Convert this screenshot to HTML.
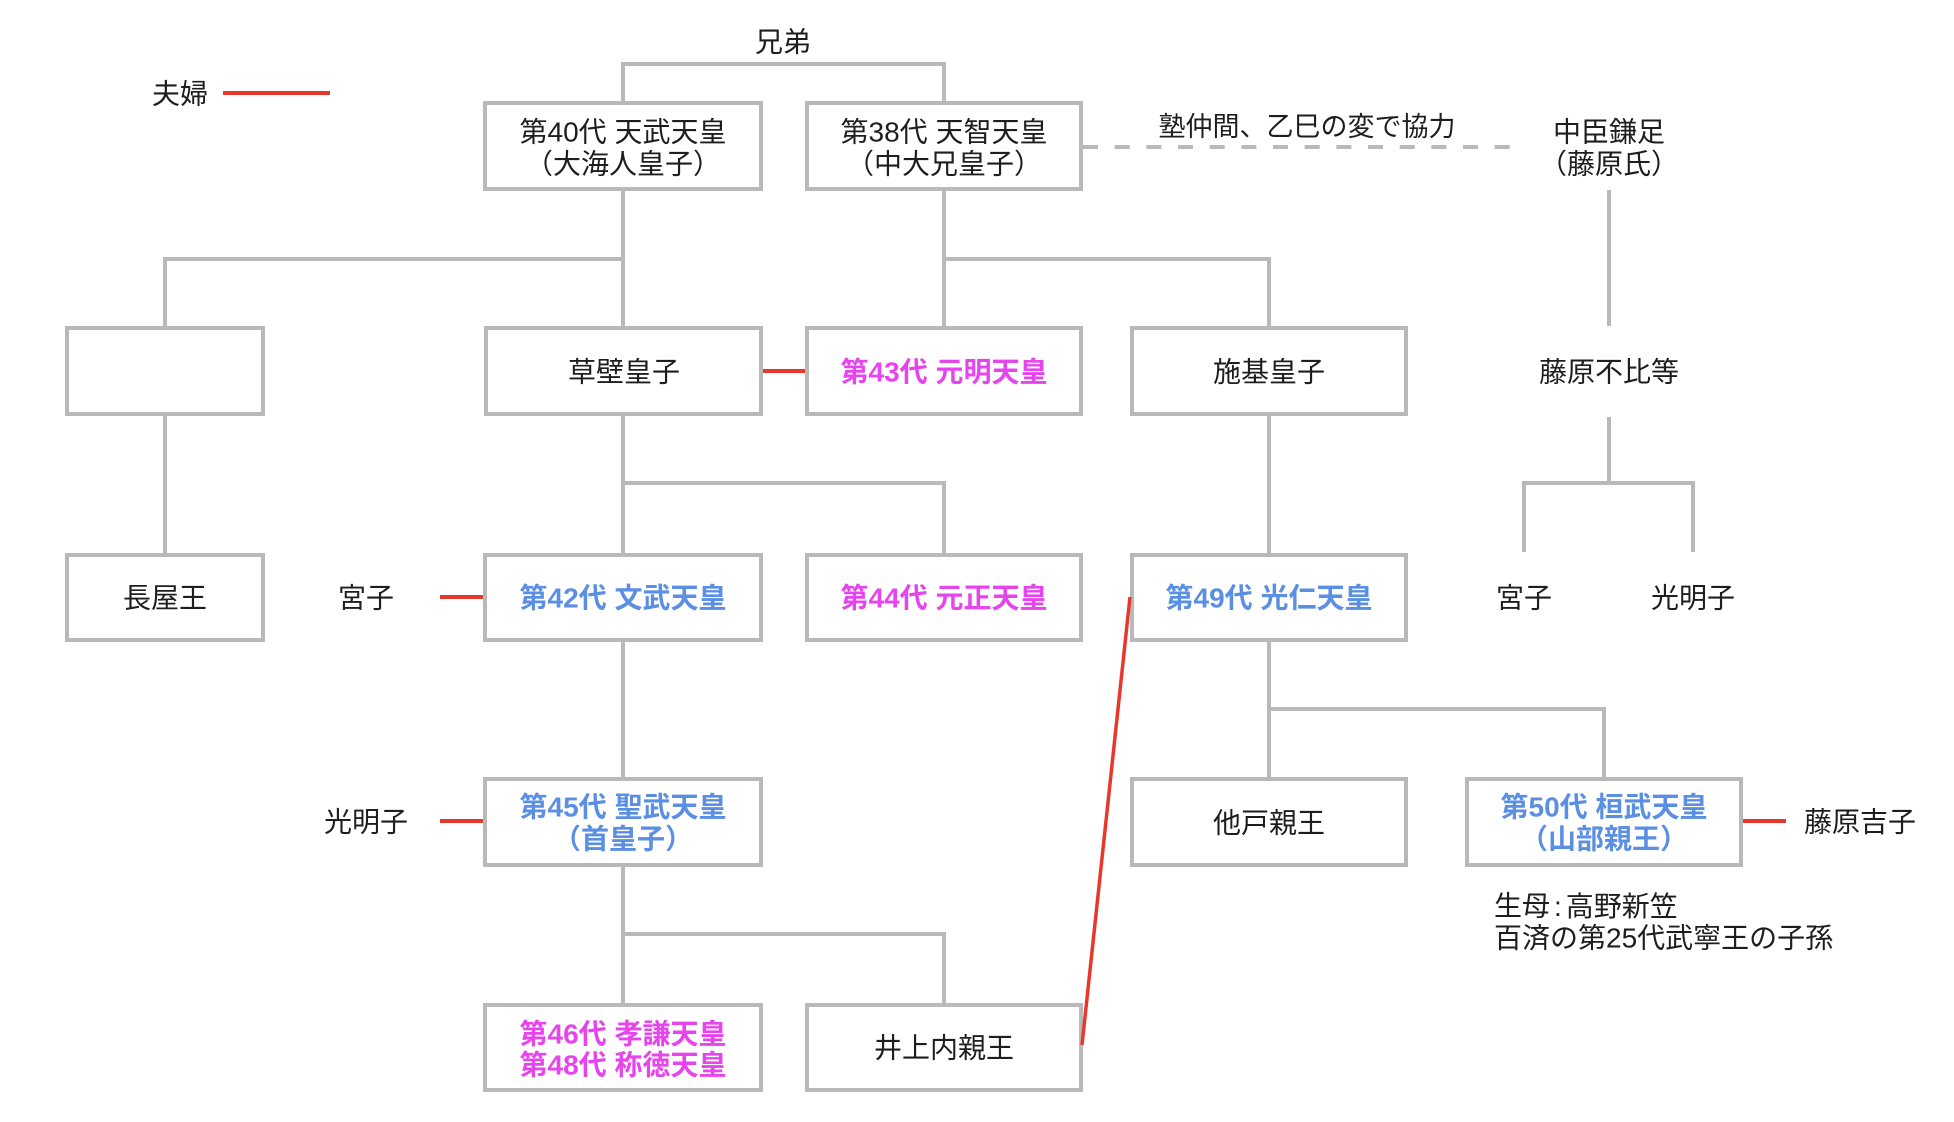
<!DOCTYPE html>
<html>
<head>
<meta charset="utf-8">
<style>
  html, body { margin: 0; padding: 0; background: #ffffff; }
  body { width: 1954px; height: 1122px; overflow: hidden; }
  svg { display: block; }
  text {
    font-family: "Liberation Sans", "Noto Sans CJK JP", sans-serif;
    font-size: 28px;
    fill: #1e1e1e;
    text-anchor: middle;
    dominant-baseline: central;
  }
  .m { fill: #e644ec; font-weight: bold; }
  .b { fill: #5a8fe3; font-weight: bold; }
  .l { text-anchor: start; }
  .s { font-size: 27px; }
</style>
</head>
<body>
<svg width="1954" height="1122" viewBox="0 0 1954 1122" xmlns="http://www.w3.org/2000/svg">
  <!-- gray connectors -->
  <g fill="none" stroke="#b9b9b9" stroke-width="4" stroke-linejoin="miter" stroke-linecap="butt">
    <path d="M623 101 V64 H944 V101"/>
    <path d="M623 191 V326"/>
    <path d="M165 326 V259 H623"/>
    <path d="M944 191 V326"/>
    <path d="M944 259 H1269 V326"/>
    <path d="M165 416 V553"/>
    <path d="M623 416 V553"/>
    <path d="M623 483 H944 V553"/>
    <path d="M1269 416 V553"/>
    <path d="M623 642 V777"/>
    <path d="M1269 642 V777"/>
    <path d="M1269 709 H1604 V777"/>
    <path d="M623 867 V1003"/>
    <path d="M623 934 H944 V1003"/>
    <path d="M1609 190 V326"/>
    <path d="M1609 417 V483"/>
    <path d="M1524 552 V483 H1693 V552"/>
    <path d="M1083 147 H1510" stroke-dasharray="15 16.67"/>
  </g>

  <!-- boxes -->
  <g fill="#ffffff" stroke="#b9b9b9" stroke-width="4">
    <rect x="485" y="103" width="276" height="86"/>
    <rect x="807" y="103" width="274" height="86"/>

    <rect x="67" y="328" width="196" height="86"/>
    <rect x="486" y="328" width="275" height="86"/>
    <rect x="807" y="328" width="274" height="86"/>
    <rect x="1132" y="328" width="274" height="86"/>

    <rect x="67" y="555" width="196" height="85"/>
    <rect x="485" y="555" width="276" height="85"/>
    <rect x="807" y="555" width="274" height="85"/>
    <rect x="1132" y="555" width="274" height="85"/>

    <rect x="485" y="779" width="276" height="86"/>
    <rect x="1132" y="779" width="274" height="86"/>
    <rect x="1467" y="779" width="274" height="86"/>

    <rect x="485" y="1005" width="276" height="85"/>
    <rect x="807" y="1005" width="274" height="85"/>
  </g>

  <!-- red spouse lines -->
  <g stroke="#e8382c" stroke-width="4" fill="none">
    <path d="M223 93 H330"/>
    <path d="M763 371 H805"/>
    <path d="M440 597 H483"/>
    <path d="M440 821 H483"/>
    <path d="M1743 821 H1786"/>
    <path d="M1082 1045 L1130 597" stroke-width="3.5"/>
  </g>

  <!-- labels -->
  <text x="783" y="42">兄弟</text>
  <text x="180" y="94">夫婦</text>
  <text class="s" x="1307" y="127">塾仲間、乙巳の変で協力</text>
  <text x="1609" y="132">中臣鎌足</text>
  <text x="1609" y="164">（藤原氏）</text>
  <text x="1609" y="372">藤原不比等</text>
  <text x="1524" y="598">宮子</text>
  <text x="1693" y="598">光明子</text>
  <text x="366" y="598">宮子</text>
  <text x="366" y="822">光明子</text>
  <text x="1860" y="822">藤原吉子</text>
  <text class="l" x="1494" y="906">生母<tspan dx="4">:</tspan><tspan dx="4">高野新笠</tspan></text>
  <text class="l" x="1494" y="938">百済の第25代武寧王の子孫</text>

  <!-- box texts -->
  <text x="623" y="132">第40代 天武天皇</text>
  <text x="623" y="164">（大海人皇子）</text>
  <text x="944" y="132">第38代 天智天皇</text>
  <text x="944" y="164">（中大兄皇子）</text>

  <text x="624" y="372">草壁皇子</text>
  <text class="m" x="944" y="372">第43代 元明天皇</text>
  <text x="1269" y="372">施基皇子</text>

  <text x="165" y="598">長屋王</text>
  <text class="b" x="623" y="598">第42代 文武天皇</text>
  <text class="m" x="944" y="598">第44代 元正天皇</text>
  <text class="b" x="1269" y="598">第49代 光仁天皇</text>

  <text class="b" x="623" y="807">第45代 聖武天皇</text>
  <text class="b" x="623" y="839">（首皇子）</text>
  <text x="1269" y="823">他戸親王</text>
  <text class="b" x="1604" y="807">第50代 桓武天皇</text>
  <text class="b" x="1604" y="839">（山部親王）</text>

  <text class="m" x="623" y="1034">第46代 孝謙天皇</text>
  <text class="m" x="623" y="1065">第48代 称徳天皇</text>
  <text x="944" y="1048">井上内親王</text>
</svg>
</body>
</html>
